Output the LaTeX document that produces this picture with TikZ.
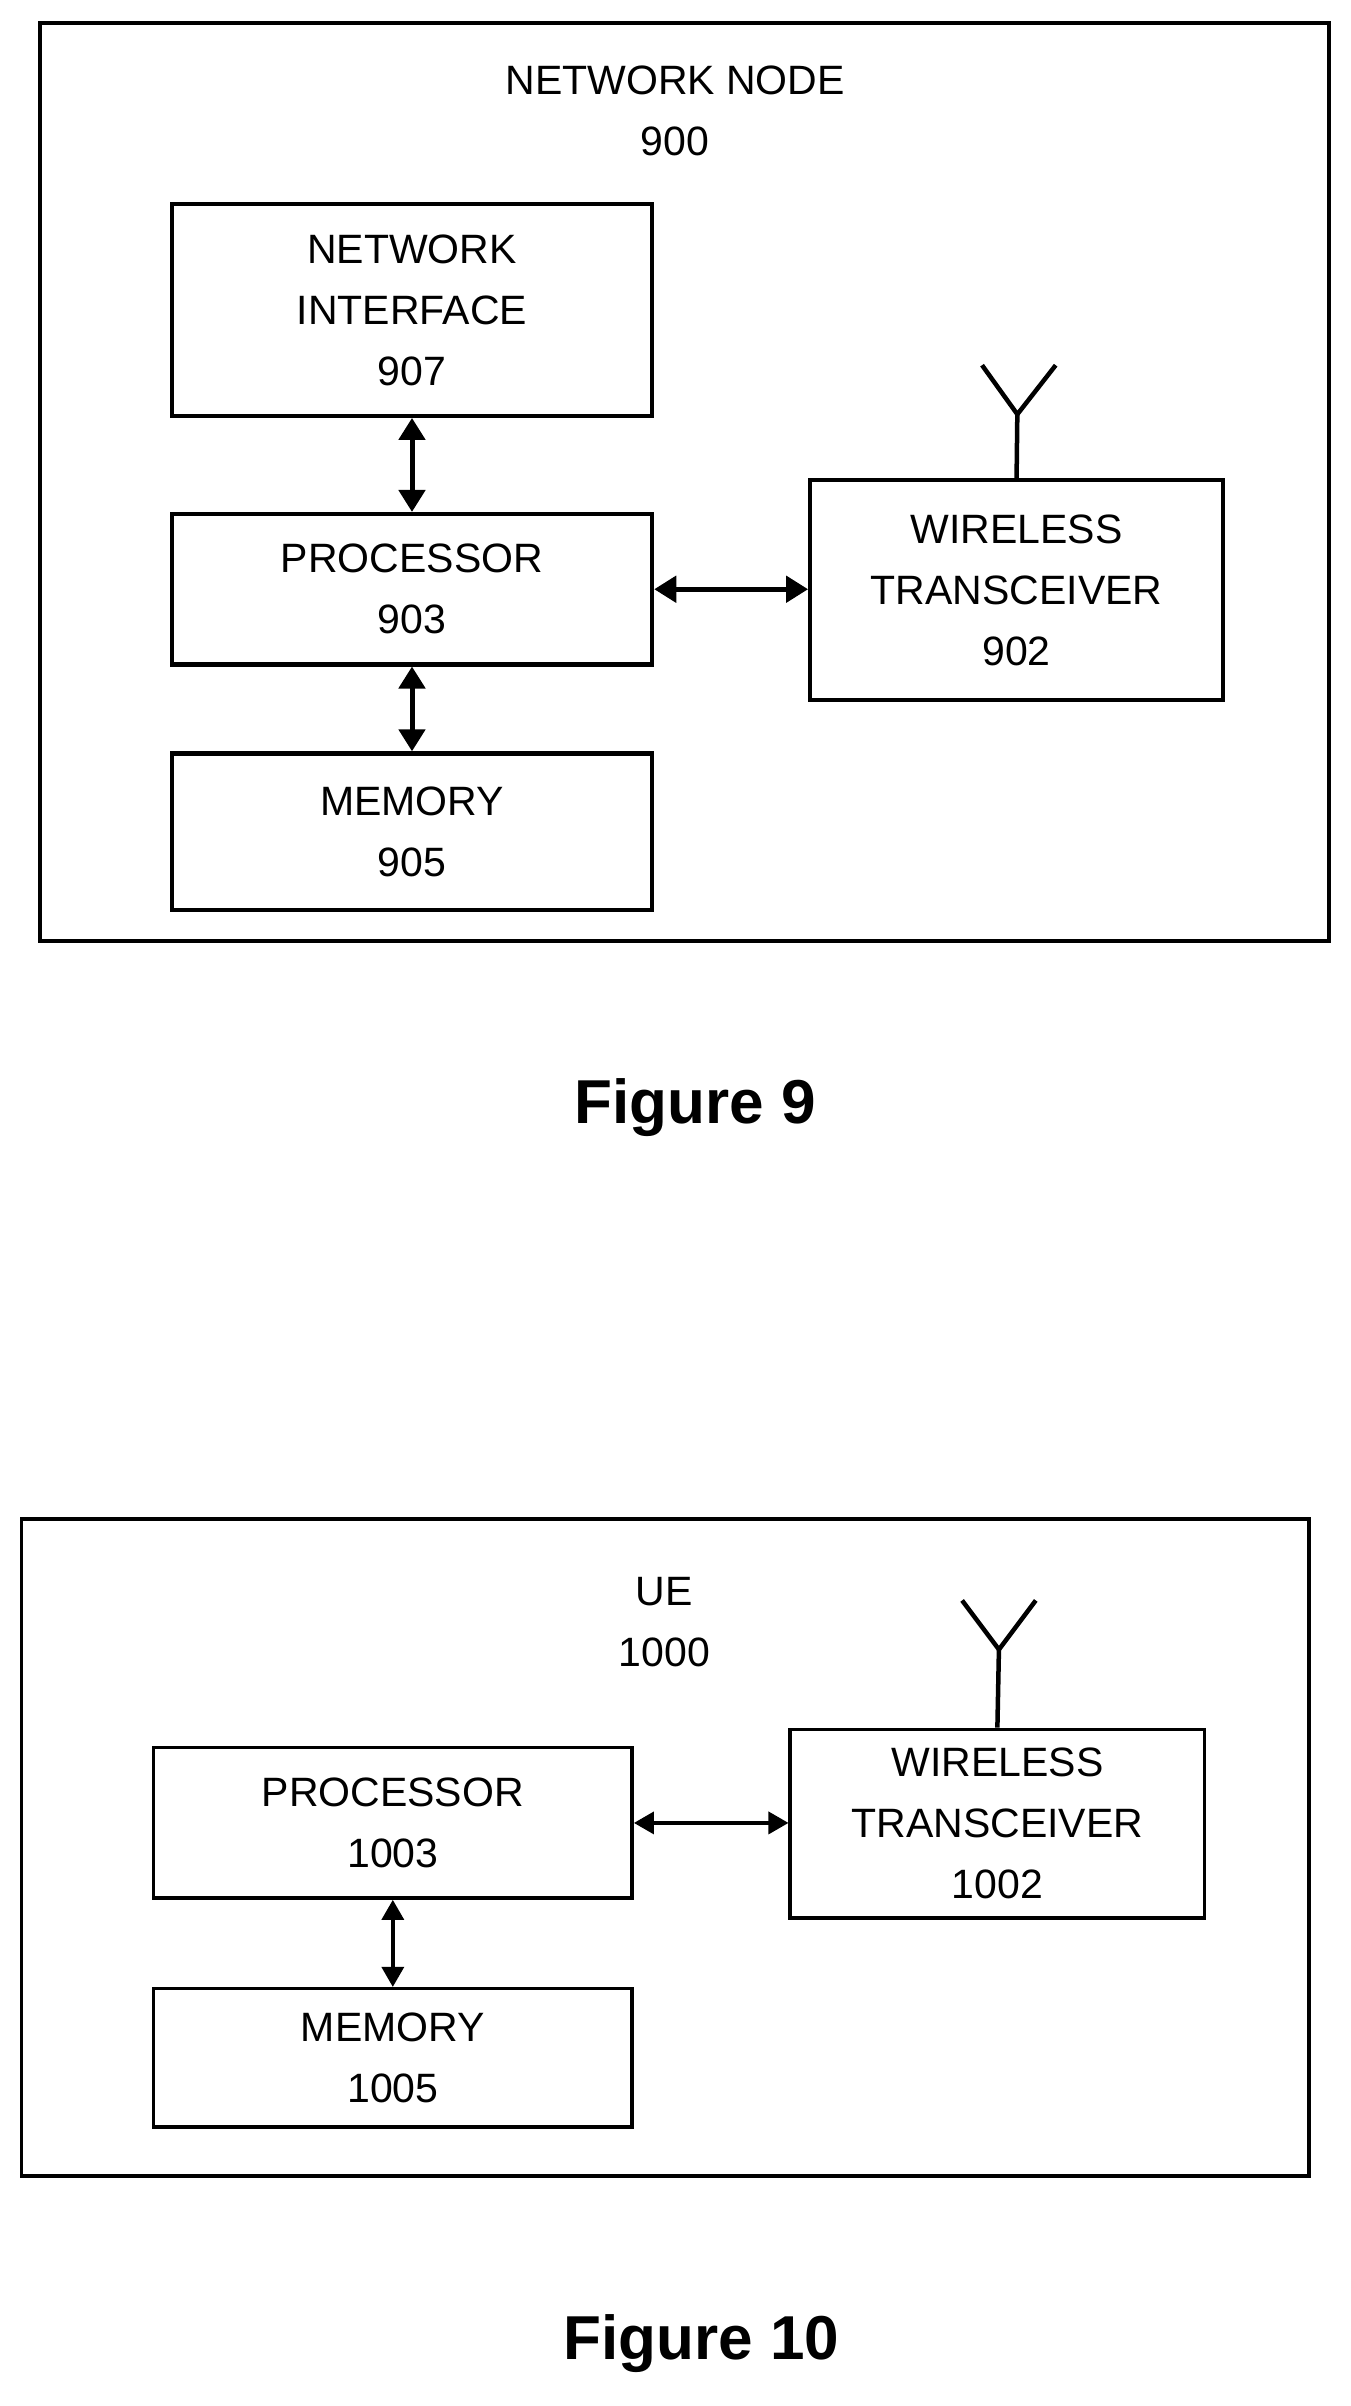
\documentclass[tikz,border=0pt]{standalone}
\usepackage{fontspec}
\setmainfont{Liberation Sans}
\usetikzlibrary{arrows.meta}
\begin{document}
\begin{tikzpicture}[x=1.534pt,y=-1.534pt,
  box/.style={draw,line width=4.2pt},
  lbl/.style={font=\fontsize{41}{61}\selectfont,align=center},
  fig/.style={font=\fontsize{62}{70}\selectfont\bfseries},
  thk/.style={line width=5pt,{Triangle[length=22pt,width=26pt]}-{Triangle[length=22pt,width=26pt]}},
  thn/.style={line width=3.5pt,{Triangle[length=20pt,width=22pt]}-{Triangle[length=20pt,width=22pt]}},
  ant/.style={line width=4.5pt}]
\useasboundingbox (0,0) rectangle (880,1568);
% Figure 9
\node[box,minimum width=840*1.534pt,minimum height=598*1.534pt] (nn) at (446,314) {};
\node[lbl] (t9) at (440,72) {NETWORK NODE\\900};
\node[box,minimum width=313*1.534pt,minimum height=138*1.534pt,lbl] (ni) at (268.5,202) {NETWORK\\INTERFACE\\907};
\node[box,minimum width=313*1.534pt,minimum height=98*1.534pt,lbl] (p9) at (268.5,384) {PROCESSOR\\903};
\node[box,minimum width=313*1.534pt,minimum height=102*1.534pt,lbl] (m9) at (268.5,542) {MEMORY\\905};
\node[box,minimum width=269*1.534pt,minimum height=143*1.534pt,lbl] (w9) at (662.5,384.5) {WIRELESS\\TRANSCEIVER\\902};
\draw[thk] (ni.south) -- (p9.north);
\draw[thk] (p9.south) -- (m9.north);
\draw[thk] (p9.east) -- (p9.east-|w9.west);
\coordinate (a9) at (663,270);
\coordinate (a9l) at (640,238);
\coordinate (a9r) at (688,238);
\draw[ant] (w9.north) -- (a9);
\draw[ant] (a9l) -- (a9) -- (a9r);
\node[fig] (f9) at (453,722) {Figure 9};
% Figure 10
\node[box,line width=3.8pt,minimum width=839*1.534pt,minimum height=428*1.534pt] (ue) at (433.5,1204) {};
\node[lbl] (t10) at (433,1057) {UE\\1000};
\node[box,line width=3.5pt,minimum width=312*1.534pt,minimum height=98*1.534pt,lbl] (p10) at (256,1188) {PROCESSOR\\1003};
\node[box,line width=3.5pt,minimum width=312*1.534pt,minimum height=90*1.534pt,lbl] (m10) at (256,1341) {MEMORY\\1005};
\node[box,line width=3.5pt,minimum width=270*1.534pt,minimum height=123*1.534pt,lbl] (w10) at (650,1188.5) {WIRELESS\\TRANSCEIVER\\1002};
\draw[thn] (p10.south) -- (m10.north);
\draw[thn] (p10.east) -- (p10.east-|w10.west);
\coordinate (a10) at (651,1075);
\coordinate (a10l) at (627,1043);
\coordinate (a10r) at (675,1043);
\draw[ant] (w10.north) -- (a10);
\draw[ant] (a10l) -- (a10) -- (a10r);
\node[fig] (f10) at (457,1527) {Figure 10};
\end{tikzpicture}
\end{document}
